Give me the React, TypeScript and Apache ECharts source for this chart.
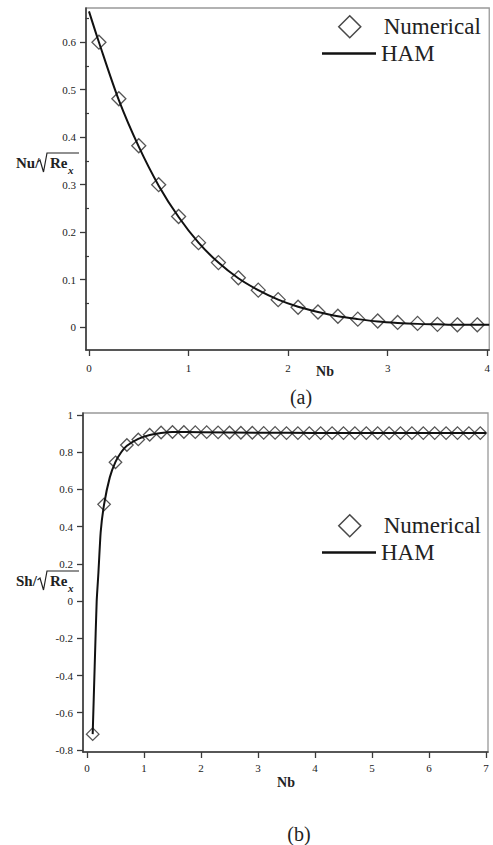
import React, { useEffect, useRef } from "react";
import * as echarts from "echarts";

// ---------- Data: chart (a) ----------
const numXA = [0.1, 0.3, 0.5, 0.7, 0.9, 1.1, 1.3, 1.5, 1.7, 1.9, 2.1, 2.3, 2.5, 2.7, 2.9, 3.1, 3.3, 3.5, 3.7, 3.9];
const numYA = [0.600, 0.481, 0.382, 0.300, 0.233, 0.178, 0.136, 0.104, 0.078, 0.058, 0.042, 0.032, 0.023, 0.017, 0.013, 0.010, 0.008, 0.006, 0.005, 0.005];
const hamXA = [0, 0.1, 0.3, 0.5, 0.7, 0.9, 1.1, 1.3, 1.5, 1.7, 1.9, 2.1, 2.3, 2.5, 2.7, 2.9, 3.1, 3.3, 3.5, 3.7, 3.9, 4.02];
const hamYA = [0.665, 0.600, 0.478, 0.380, 0.298, 0.232, 0.178, 0.136, 0.103, 0.078, 0.058, 0.043, 0.032, 0.023, 0.017, 0.012, 0.009, 0.007, 0.006, 0.005, 0.005, 0.005];
const xTicksA = [0, 1, 2, 3, 4];
const yTicksA = [0, 0.1, 0.2, 0.3, 0.4, 0.5, 0.6];
const yMinorA = [0.05, 0.15, 0.25, 0.35, 0.45, 0.55, 0.65];

// ---------- Data: chart (b) ----------
const numXB = [0.1, 0.3, 0.5, 0.7, 0.9, 1.1, 1.3, 1.5, 1.7, 1.9, 2.1, 2.3, 2.5, 2.7, 2.9, 3.1, 3.3, 3.5, 3.7, 3.9, 4.1, 4.3, 4.5, 4.7, 4.9, 5.1, 5.3, 5.5, 5.7, 5.9, 6.1, 6.3, 6.5, 6.7, 6.9];
const numYB = [-0.715, 0.52, 0.746, 0.839, 0.869, 0.894, 0.906, 0.909, 0.909, 0.908, 0.908, 0.907, 0.906, 0.905, 0.905, 0.904, 0.904, 0.903, 0.903, 0.903, 0.903, 0.903, 0.903, 0.903, 0.903, 0.903, 0.903, 0.903, 0.903, 0.903, 0.903, 0.903, 0.903, 0.903, 0.903];
const hamXB = [0.1, 0.135, 0.17, 0.2, 0.24, 0.3, 0.4, 0.5, 0.6, 0.7, 0.9, 1.1, 1.3, 1.5, 2, 3, 4, 5, 6, 7];
const hamYB = [-0.715, -0.35, 0.0, 0.15, 0.37, 0.52, 0.665, 0.748, 0.80, 0.835, 0.872, 0.893, 0.904, 0.909, 0.908, 0.905, 0.904, 0.903, 0.903, 0.903];
const xTicksB = [0, 1, 2, 3, 4, 5, 6, 7];
const yTicksB = [-0.8, -0.6, -0.4, -0.2, 0, 0.2, 0.4, 0.6, 0.8, 1];

const FONT = "Liberation Serif";
const DARK = "#3a3a3a";
const TXT = "#222";

function zip(xs: number[], ys: number[]) {
  return xs.map((x, i) => [x, ys[i]]);
}

function fmt(v: number) {
  const r = Math.round(v * 10) / 10;
  return r === 0 ? "0" : String(r);
}

function xAxisCfg(grid: number, min: number, max: number, ticks: number[], margin: number) {
  return {
    type: "value",
    gridIndex: grid,
    min,
    max,
    axisLine: { show: true, onZero: false, lineStyle: { color: DARK, width: 1.6 } },
    axisTick: { show: true, length: 6, customValues: ticks, lineStyle: { color: DARK, width: 1.3 } },
    axisLabel: { customValues: ticks, margin, fontSize: 11, fontFamily: FONT, color: TXT, formatter: (v: number) => fmt(v) },
    splitLine: { show: false },
  };
}

function yAxisCfg(grid: number, min: number, max: number, ticks: number[], margin: number) {
  return {
    type: "value",
    gridIndex: grid,
    position: "left",
    min,
    max,
    axisLine: { show: true, onZero: false, lineStyle: { color: DARK, width: 1.6 } },
    axisTick: { show: true, length: 6, customValues: ticks, lineStyle: { color: DARK, width: 1.3 } },
    axisLabel: { customValues: ticks, margin, fontSize: 11, fontFamily: FONT, color: TXT, formatter: (v: number) => fmt(v) },
    splitLine: { show: false },
  };
}

function yLabel(prefix: string, B: number) {
  return [
    { type: "text", x: 16, y: B - 5, style: { text: prefix, fontSize: 15, fontWeight: "bold", fontFamily: FONT, fill: TXT, textVerticalAlign: "middle", textAlign: "left" } },
    {
      type: "polyline",
      shape: { points: [[37.5, B - 6], [40, B - 8], [43.5, B + 4], [47, B - 15], [79, B - 15]] },
      style: { stroke: TXT, lineWidth: 1.2, fill: "none" },
    },
    { type: "text", x: 50, y: B - 5, style: { text: "Re", fontSize: 15, fontWeight: "bold", fontFamily: FONT, fill: TXT, textVerticalAlign: "middle", textAlign: "left" } },
    { type: "text", x: 68, y: B + 1.5, style: { text: "x", fontSize: 11, fontWeight: "bold", fontStyle: "italic", fontFamily: FONT, fill: TXT, textVerticalAlign: "middle", textAlign: "left" } },
  ];
}

function centerText(text: string, x: number, y: number, size: number, bold: boolean) {
  return {
    type: "text",
    x,
    y,
    style: { text, fontSize: size, fontWeight: bold ? "bold" : "normal", fontFamily: FONT, fill: TXT, textAlign: "center", textVerticalAlign: "middle" },
  };
}

function legendNum(top: number) {
  return {
    data: [{ name: "Numerical", icon: "diamond" }],
    orient: "vertical",
    left: 338,
    top,
    padding: 0,
    itemWidth: 22,
    itemHeight: 22,
    itemStyle: { color: "rgba(255,255,255,0)", borderColor: "#1a1a1a", borderWidth: 1.5 },
    textStyle: { fontSize: 23, fontFamily: FONT, color: TXT, lineHeight: 23, padding: [0, 0, 0, 18] },
    selectedMode: false,
  };
}

function legendHam(top: number) {
  return {
    data: [{ name: "HAM", icon: "rect" }],
    orient: "vertical",
    left: 322,
    top,
    padding: 0,
    itemWidth: 54,
    itemHeight: 2.6,
    itemStyle: { color: "#111", borderWidth: 0 },
    textStyle: { fontSize: 23, fontFamily: FONT, color: TXT, lineHeight: 23 },
    selectedMode: false,
  };
}

const numStyle = { color: "rgba(255,255,255,0)", borderColor: "#2a2a2a", borderWidth: 1.3 };

export default function App() {
  const ref = useRef<HTMLDivElement>(null);

  useEffect(() => {
    if (!ref.current) return;
    const chart = echarts.init(ref.current, undefined, { renderer: "svg" });
    const option: any = {
      animation: false,
      backgroundColor: "#fff",
      textStyle: { fontFamily: FONT },
      grid: [
        { left: 86, top: 8, width: 405, height: 342, show: true, borderColor: "#999", borderWidth: 1.3, backgroundColor: "transparent" },
        { left: 83, top: 413, width: 405, height: 339, show: true, borderColor: "#999", borderWidth: 1.3, backgroundColor: "transparent" },
      ],
      xAxis: [xAxisCfg(0, -0.03, 4.02, xTicksA, 12), xAxisCfg(1, -0.07, 7.035, xTicksB, 10)],
      yAxis: [
        yAxisCfg(0, -0.048, 0.672, yTicksA, 10),
        {
          type: "value",
          gridIndex: 0,
          position: "left",
          min: -0.048,
          max: 0.672,
          axisLine: { show: false },
          axisTick: { show: true, length: 3.5, customValues: yMinorA, lineStyle: { color: DARK, width: 1.2 } },
          axisLabel: { show: false },
          splitLine: { show: false },
        },
        yAxisCfg(1, -0.811, 1.011, yTicksB, 10),
      ],
      legend: [legendNum(15), legendHam(42), legendNum(514), legendHam(541)],
      series: [
        {
          name: "HAM",
          type: "line",
          xAxisIndex: 0,
          yAxisIndex: 0,
          data: zip(hamXA, hamYA),
          symbol: "none",
          smooth: 0.3,
          lineStyle: { color: "#111", width: 2 },
          itemStyle: { color: "#111" },
          z: 3,
        },
        {
          name: "Numerical",
          type: "scatter",
          xAxisIndex: 0,
          yAxisIndex: 0,
          data: zip(numXA, numYA),
          symbol: "diamond",
          symbolSize: 14,
          itemStyle: numStyle,
          z: 2,
        },
        {
          name: "HAM",
          type: "line",
          xAxisIndex: 1,
          yAxisIndex: 2,
          data: zip(hamXB, hamYB),
          symbol: "none",
          smooth: 0.15,
          lineStyle: { color: "#111", width: 2 },
          itemStyle: { color: "#111" },
          z: 3,
        },
        {
          name: "Numerical",
          type: "scatter",
          xAxisIndex: 1,
          yAxisIndex: 2,
          data: zip(numXB, numYB),
          symbol: "diamond",
          symbolSize: 12.5,
          itemStyle: numStyle,
          z: 2,
        },
      ],
      graphic: [
        ...yLabel("Nu/", 168),
        ...yLabel("Sh/", 586),
        centerText("Nb", 325, 371, 14, true),
        centerText("(a)", 301, 397, 20, false),
        centerText("Nb", 286, 782, 14, true),
        centerText("(b)", 299, 834, 20, false),
      ],
    };
    chart.setOption(option);
    return () => chart.dispose();
  }, []);

  return <div ref={ref} style={{ position: "absolute", left: 0, top: 0, width: 493, height: 845 }} />;
}
